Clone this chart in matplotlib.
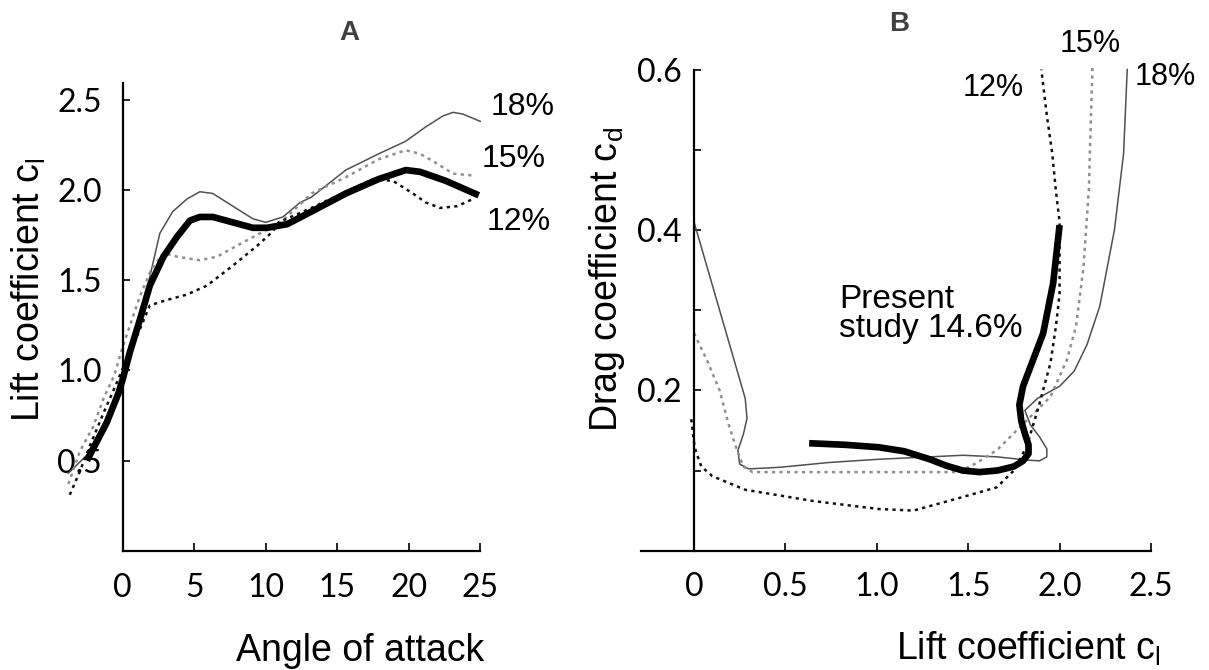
import matplotlib
matplotlib.use("Agg")
import matplotlib.pyplot as plt

plt.rcParams['font.family'] = ['Liberation Sans', 'DejaVu Sans']

# ---- Panel A: lift coefficient vs angle of attack ----
a_present_x = [-2.5, -1.12, -0.31, 0, 0.5, 1.2, 1.9, 2.85, 3.8, 4.7, 5.4, 6.3, 7.7, 9.1, 10.1,
               11.5, 13.2, 15.6, 17.9, 19.8, 20.8, 22.6, 24.9]
a_present_y = [0.50, 0.71, 0.87, 0.95, 1.10, 1.28, 1.47, 1.63, 1.74, 1.83, 1.85, 1.85, 1.82, 1.79, 1.79,
               1.81, 1.88, 1.98, 2.06, 2.11, 2.10, 2.05, 1.97]
a_18_x = [-3.8, -2.5, -1.2, 0, 1.0, 1.9, 2.6, 3.5, 4.5, 5.4, 6.3, 7.7, 9.1, 10.0, 11.2, 12.4, 13.2,
          15.6, 17.9, 19.8, 21.2, 22.4, 23.1, 23.8, 25.0]
a_18_y = [0.43, 0.53, 0.72, 0.96, 1.22, 1.52, 1.76, 1.88, 1.95, 1.99, 1.98, 1.91, 1.84, 1.82, 1.85, 1.93, 1.96,
          2.11, 2.20, 2.27, 2.35, 2.41, 2.43, 2.42, 2.38]
a_15_x = [-3.8, -3.0, -2.05, -1.36, -0.6, 0, 1.2, 2.0, 2.85, 3.8, 5.4, 6.6, 8.2, 10.1, 11.2, 13.2,
          15.6, 17.9, 19.8, 20.8, 21.9, 23.1, 24.5]
a_15_y = [0.37, 0.55, 0.69, 0.84, 0.97, 1.13, 1.41, 1.56, 1.65, 1.63, 1.61, 1.63, 1.70, 1.78, 1.83, 1.98,
          2.07, 2.17, 2.22, 2.20, 2.15, 2.09, 2.08]
a_12_x = [-3.7, -3.1, -2.3, -1.36, -0.42, 0, 1.0, 1.9, 3.1, 4.5, 5.9, 7.7, 9.4, 10.5, 10.9, 13.2,
          15.6, 17.5, 18.9, 20.3, 21.2, 22.2, 23.4, 24.5]
a_12_y = [0.31, 0.42, 0.58, 0.76, 0.93, 1.01, 1.19, 1.36, 1.39, 1.42, 1.47, 1.58, 1.69, 1.77, 1.82, 1.90,
          1.99, 2.06, 2.05, 1.98, 1.93, 1.90, 1.91, 1.95]
a_xticks = [0, 5, 10, 15, 20, 25]
a_xlabels = ['0', '5', '10', '15', '20', '25']
a_yticks = [0.5, 1.0, 1.5, 2.0, 2.5]
a_ylabels = ['0.5', '1.0', '1.5', '2.0', '2.5']

# ---- Panel B: drag coefficient vs lift coefficient ----
b_present_x = [0.63, 0.83, 1.01, 1.15, 1.29, 1.38, 1.47, 1.56, 1.66, 1.75, 1.80, 1.83, 1.83, 1.81, 1.79,
               1.78, 1.80, 1.84, 1.91, 1.965, 2.0]
b_present_y = [0.134, 0.132, 0.129, 0.124, 0.114, 0.106, 0.100, 0.098, 0.100, 0.105, 0.112, 0.121, 0.132,
               0.146, 0.162, 0.182, 0.205, 0.229, 0.271, 0.334, 0.406]
b_18_x = [0, 0.28, 0.29, 0.27, 0.24, 0.25, 0.30, 0.47, 0.74, 1.01, 1.29, 1.47, 1.66, 1.82,
          1.89, 1.93, 1.93, 1.89, 1.84, 1.81, 1.88, 2.0, 2.08, 2.15, 2.22, 2.30, 2.35, 2.37]
b_18_y = [0.41, 0.19, 0.165, 0.145, 0.125, 0.108, 0.102, 0.104, 0.11, 0.114, 0.117, 0.119,
          0.117, 0.113, 0.112, 0.117, 0.127, 0.142, 0.157, 0.175, 0.19, 0.205, 0.224, 0.257, 0.305, 0.40,
          0.495, 0.60]
b_15_x = [0, 0.07, 0.14, 0.19, 0.23, 0.27, 0.32, 1.0, 1.45, 1.55, 1.66, 1.84, 1.95, 2.04, 2.09, 2.13,
          2.16, 2.17, 2.18]
b_15_y = [0.271, 0.238, 0.20, 0.157, 0.129, 0.105, 0.098, 0.098, 0.098, 0.11, 0.126, 0.167, 0.192, 0.238,
          0.28, 0.352, 0.45, 0.53, 0.605]
b_12_x = [-0.015, 0.0, 0.01, 0.04, 0.10, 0.28, 0.65, 1.01, 1.20, 1.44, 1.656, 1.75, 1.82, 1.886, 1.95,
          1.98, 2.0, 2.0, 2.0, 1.98, 1.96, 1.93, 1.90]
b_12_y = [0.164, 0.135, 0.124, 0.105, 0.093, 0.076, 0.062, 0.052, 0.050, 0.065, 0.079, 0.10, 0.13, 0.18,
          0.234, 0.28, 0.32, 0.365, 0.41, 0.448, 0.495, 0.543, 0.60]
b_xticks = [0, 0.5, 1.0, 1.5, 2.0, 2.5]
b_xlabels = ['0', '0.5', '1.0', '1.5', '2.0', '2.5']
b_yticks = [0.2, 0.4, 0.6]
b_ylabels = ['0.2', '0.4', '0.6']
b_yminor = [0.1, 0.3, 0.5]

W, H = 1209, 670
fig = plt.figure(figsize=(W / 100, H / 100), dpi=100)


def place_axes(x0, sx, y0, sy, xlim, ylim):
    # x0/y0: pixel of data zero, sx/sy: pixels per data unit
    left = x0 + sx * xlim[0]
    right = x0 + sx * xlim[1]
    bottom = y0 - sy * ylim[0]
    top = y0 - sy * ylim[1]
    ax = fig.add_axes([left / W, 1 - bottom / H, (right - left) / W, (bottom - top) / H])
    ax.set_xlim(*xlim)
    ax.set_ylim(*ylim)
    ax.patch.set_alpha(0)
    return ax


def style_axes(ax, xbounds, ybounds, xpad, ypad):
    for s in ['top', 'right']:
        ax.spines[s].set_visible(False)
    ax.spines['left'].set_position(('data', 0))
    ax.spines['bottom'].set_bounds(*xbounds)
    ax.spines['left'].set_bounds(*ybounds)
    for s in ['left', 'bottom']:
        ax.spines[s].set_linewidth(1.6)
    ax.tick_params(axis='x', which='both', direction='in', length=6, width=1.2, pad=xpad,
                   labelsize=23)
    ax.tick_params(axis='y', which='both', direction='in', length=5, width=1.2, pad=ypad,
                   labelsize=23)
    for lab in ax.get_xticklabels() + ax.get_yticklabels():
        lab.set_fontfamily('Lato')


thin_c = '#505050'
gray_c = '#8f8f8f'
dot = (0, (1.3, 1.7))

# Panel A
axA = place_axes(122.7, 14.3, 550.7, 180.4, (-4.5, 27.5), (0, 2.7))
axA.plot(a_18_x, a_18_y, color=thin_c, lw=1.1)
axA.plot(a_15_x, a_15_y, color=gray_c, lw=1.8, ls=dot)
axA.plot(a_12_x, a_12_y, color='#111111', lw=1.8, ls=dot)
axA.plot(a_present_x, a_present_y, color='black', lw=4.8, solid_capstyle='butt', solid_joinstyle='round')
axA.set_xticks(a_xticks, a_xlabels)
axA.set_yticks(a_yticks, a_ylabels)
style_axes(axA, (0, 25), (0, 2.59), 16, 15)
axA.text(25.73, 2.415, '18%', fontsize=23, ha='left', va='baseline')
axA.text(25.1, 2.127, '15%', fontsize=23, ha='left', va='baseline')
axA.text(25.45, 1.778, '12%', fontsize=23, ha='left', va='baseline')

# Panel B
axB = place_axes(694, 182.8, 550.7, 802, (-0.35, 2.7), (0, 0.66))
axB.plot(b_18_x, b_18_y, color=thin_c, lw=1.1)
axB.plot(b_15_x, b_15_y, color=gray_c, lw=1.8, ls=dot)
axB.plot(b_12_x, b_12_y, color='#111111', lw=1.8, ls=dot)
axB.plot(b_present_x, b_present_y, color='black', lw=4.8, solid_capstyle='butt', solid_joinstyle='round')
axB.set_xticks(b_xticks, b_xlabels)
axB.set_yticks(b_yticks, b_ylabels)
axB.set_yticks(b_yminor, minor=True)
style_axes(axB, (-0.29, 2.5), (0, 0.6), 15, 9)
axB.text(1.47, 0.567, '12%', fontsize=22, ha='left', va='baseline')
axB.text(2.0, 0.622, '15%', fontsize=22, ha='left', va='baseline')
axB.text(2.41, 0.581, '18%', fontsize=22, ha='left', va='baseline')
axB.text(0.793, 0.266, 'Present\nstudy 14.6%', fontsize=24, ha='left', va='baseline',
         linespacing=0.92)


def ftext(x, y, s, **kw):
    fig.text(x / W, 1 - y / H, s, **kw)


# axis labels
ftext(40, 422, 'Lift coefficient c$_\\mathregular{l}$', fontsize=27, rotation=90,
      rotation_mode='anchor', ha='left', va='baseline')
ftext(236, 661, 'Angle of attack', fontsize=27, ha='left', va='baseline')
ftext(617, 432, 'Drag coefficient c$_\\mathregular{d}$', fontsize=27, rotation=90,
      rotation_mode='anchor', ha='left', va='baseline')
ftext(896, 660, 'Lift coefficient c$_\\mathregular{l}$', fontsize=27, ha='left', va='baseline')

# panel letters
ftext(349, 40, 'A', fontsize=20, fontweight='bold', color='#404040', ha='center', va='baseline')
ftext(899, 31, 'B', fontsize=20, fontweight='bold', color='#404040', ha='center', va='baseline')

fig.savefig('out.png', dpi=100)
